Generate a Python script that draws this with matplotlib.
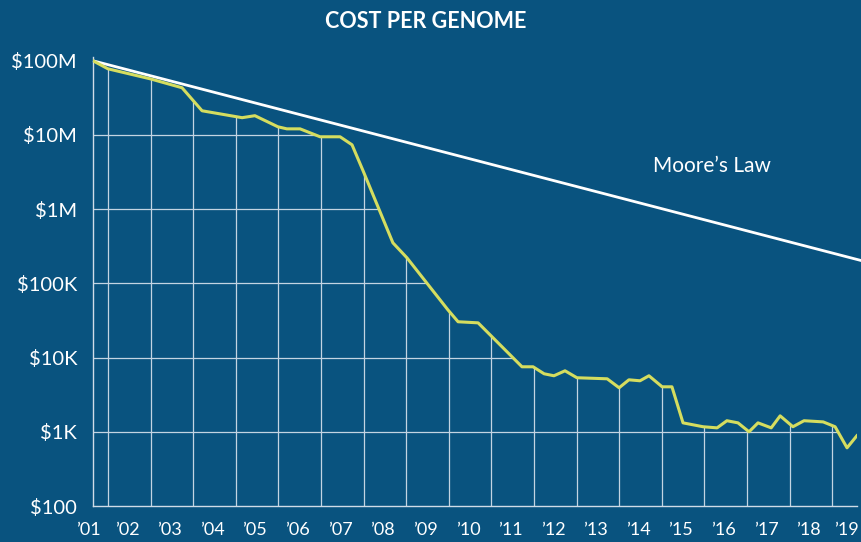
import numpy as np
import matplotlib.pyplot as plt
from matplotlib.patches import Polygon

# cost per genome (decimal year, US$)
years = [2001.00, 2001.35, 2002.34, 2003.09, 2003.56, 2004.50, 2004.80, 2005.34,
         2005.55, 2005.86, 2006.33, 2006.80, 2007.08, 2007.34, 2008.04, 2008.37,
         2009.33, 2009.57, 2010.04, 2011.07, 2011.33, 2011.59, 2011.82, 2012.08,
         2012.36, 2013.07, 2013.35, 2013.58, 2013.84, 2014.05, 2014.36, 2014.59,
         2014.85, 2015.32, 2015.65, 2015.88, 2016.14, 2016.40, 2016.61, 2016.92,
         2017.13, 2017.43, 2017.69, 2018.14, 2018.42, 2018.70, 2018.93]
cost = [100.0e6, 78.0e6, 57.2e6, 43.3e6, 21.2e6, 17.1e6, 18.2e6, 12.9e6,
        12.1e6, 12.1e6, 9.46e6, 9.46e6, 7.38e6, 3.29e6, 352e3, 221e3,
        44.1e3, 30.4e3, 29.4e3, 7520, 7520, 6050, 5690, 6640,
        5350, 5180, 3920, 5020, 4870, 5690, 4040, 4040,
        1320, 1170, 1130, 1410, 1320, 1000, 1320, 1130,
        1640, 1170, 1410, 1360, 1170, 608, 884]

# Moore's law reference line (end points)
moore_years = [2001.0, 2019.05]
moore_cost = [100.0e6, 2.02e5]

grid_years = [2001.35 + k for k in range(18)]
ytick_vals = [1e2, 1e3, 1e4, 1e5, 1e6, 1e7, 1e8]
ytick_labels = ['$100', '$1K', '$10K', '$100K', '$1M', '$10M', '$100M']
xlabel_years = list(range(2001, 2020))

bg = '#09537f'
line_col = '#d5dd5f'
grid_col = '#c3d4e2'

plt.rcParams['font.family'] = ['Lato', 'DejaVu Sans']

fig = plt.figure(figsize=(8.62, 5.42), dpi=100, facecolor=bg)
ax = fig.add_axes([93/862, 1 - 506/542, 764/862, 449/542])
ax.set_facecolor(bg)
ax.set_yscale('log')
ax.set_xlim(2001.0, 2018.934)
ax.set_ylim(100, 10**8.051)

# area under the curve, used to clip the grid
poly = np.column_stack([years + [years[-1], years[0]], cost + [100, 100]])
clip = Polygon(poly, closed=True, transform=ax.transData, facecolor='none', edgecolor='none')
ax.add_patch(clip)

for g in grid_years:
    ln = ax.axvline(g, color=grid_col, lw=0.9, zorder=1)
    ln.set_clip_path(clip)
for v in ytick_vals[1:]:
    ln = ax.axhline(v, color=grid_col, lw=0.9, zorder=1)
    ln.set_clip_path(clip)

ax.plot(moore_years, moore_cost, color='white', lw=2.0, zorder=3, clip_on=False,
        solid_capstyle='butt')
ax.plot(years, cost, color=line_col, lw=2.2, zorder=4)

ax.text(2014.15, 3.19e6, 'Moore\u2019s Law', color='white', fontsize=15,
        ha='left', va='baseline')

for s in ['top', 'right']:
    ax.spines[s].set_visible(False)
for s in ['left', 'bottom']:
    ax.spines[s].set_color('#d0dce7')
    ax.spines[s].set_linewidth(1.0)

ax.set_yticks(ytick_vals)
ax.set_yticklabels(ytick_labels)
ax.yaxis.set_minor_locator(plt.NullLocator())
ax.tick_params(axis='y', length=0, pad=11.5, labelsize=14.5, labelcolor='white')
ax.set_xticks([])

for y in xlabel_years:
    if y == 2001:
        xpos = 2000.9
    elif y == 2019:
        xpos = 2018.68
    else:
        xpos = y - 0.2
    ax.text(xpos, -24/449, '\u2019' + str(y)[2:], transform=ax.get_xaxis_transform(),
            color='white', fontsize=13, ha='center', va='center')

fig.text(0.494, 1 - 21/542, 'COST PER GENOME', color='white', fontsize=15.5,
         fontweight='bold', ha='center', va='center')

fig.savefig('out.png', dpi=100, facecolor=bg)
